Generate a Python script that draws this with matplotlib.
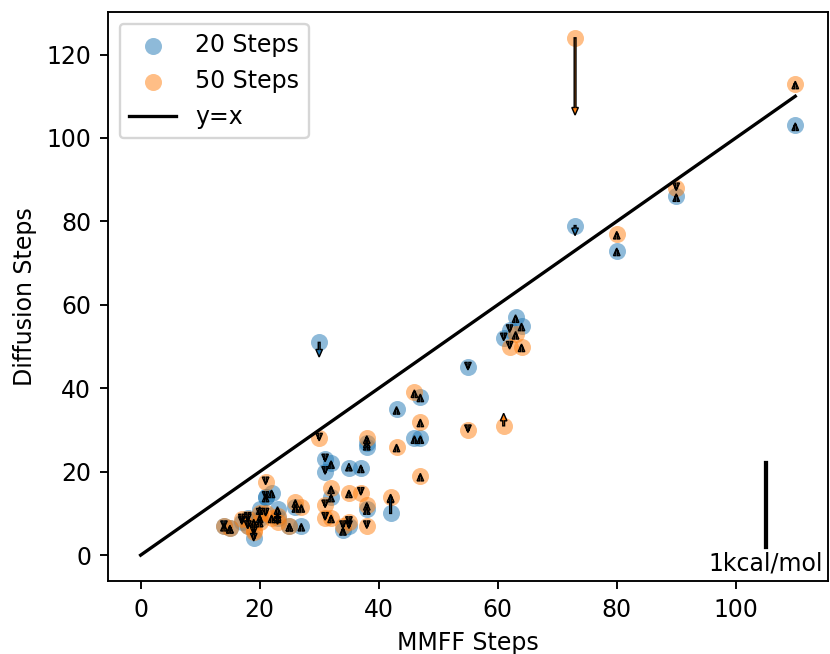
import numpy as np
import matplotlib.pyplot as plt

# MMFF step count per molecule, and the diffusion step count reached
# by the 20-step and 50-step samplers
mmff_steps = [110, 90, 80, 73, 30, 55, 61, 62, 63, 64,
              43, 46, 47, 47, 38, 42, 31, 32, 31, 35,
              37, 38, 32, 34, 35, 38, 21, 21, 22, 23,
              20, 23, 26, 25, 27, 14, 15, 17, 18, 19,
              18, 19, 20]
diff_20 = [103, 86, 73, 79, 51, 45, 52, 54, 57, 55,
           35, 28, 38, 28, 26, 10, 23, 22, 20, 21,
           21, 11, 14, 6, 7, 27, 14, 14, 15, 11,
           11, 9, 11.5, 7, 7, 7, 6.5, 8, 9, 4,
           7, 8, 9]
diff_50 = [113, 88, 77, 124, 28, 30, 31, 50, 53, 50,
           26, 39, 32, 19, 28, 14, 12, 16, 9, 15,
           15, 7, 9, 7, 8, 12, 17.5, 10, 9, 8,
           10, 9.5, 12.7, 7, 11.5, 7, 6.5, 8.6, 8.6, 6,
           7, 5.5, 8]

# energy change of each run (kcal/mol), drawn as arrows
de_20 = [0.03, 0.03, 0.03, -0.12, -0.175, -0.03, -0.03, -0.03, 0.03, 0.03,
         0.03, 0.03, 0.03, 0.03, 0.05, 0.22, -0.03, 0.03, -0.03, 0.05,
         0.03, 0.03, 0.03, 0.03, -0.03, 0.03, -0.03, 0.03, 0.03, 0.03,
         0.03, 0.03, 0.03, 0.03, 0.03, -0.03, 0.03, -0.03, -0.03, -0.03,
         -0.03, 0.03, 0.03]
de_50 = [0.03, -0.03, 0.03, -0.925, -0.03, -0.03, 0.15, -0.03, 0.03, 0.03,
         0.03, 0.03, 0.03, 0.03, 0.03, 0.03, -0.03, 0.03, -0.03, 0.03,
         -0.03, -0.03, 0.03, -0.03, -0.03, 0.03, -0.03, -0.03, 0.03, -0.03,
         -0.03, 0.03, 0.03, 0.03, 0.03, 0.03, 0.03, -0.03, -0.03, -0.03,
         -0.03, -0.03, 0.03]

scale = 20  # y units per kcal/mol

fig = plt.figure(figsize=(830 / 170, 654 / 170), dpi=170)
ax = fig.add_axes([0.130, 0.1116, 0.8676, 0.8701])

h1 = ax.scatter(mmff_steps, diff_20, s=52, color='C0', alpha=0.5, lw=0, label='20 Steps')
h2 = ax.scatter(mmff_steps, diff_50, s=52, color='C1', alpha=0.5, lw=0, label='50 Steps')
h3, = ax.plot([0, 110], [0, 110], 'k', lw=1.4, label='y=x')

for x, y, d, c in zip(mmff_steps * 2, diff_20 + diff_50, de_20 + de_50,
                      ['C0'] * len(de_20) + ['C1'] * len(de_50)):
    ax.arrow(x, y, 0, d * scale, width=0.3, head_width=1.1, head_length=1.8,
             length_includes_head=True, fc=c, ec='k', lw=0.6)

# 1 kcal/mol scale bar
ax.plot([105, 105], [2, 2 + scale], 'k', lw=1.8)
ax.text(105, -2, '1kcal/mol', ha='center', va='center')

ax.set_xlim(-5.5, 115.5)
ax.set_ylim(-6.2, 130.2)
ax.set_xticks(np.arange(0, 101, 20))
ax.set_yticks(np.arange(0, 121, 20))
ax.set_xlabel('MMFF Steps')
ax.set_ylabel('Diffusion Steps')
ax.legend(handles=[h1, h2, h3], loc='upper left')

fig.savefig('out.png')
